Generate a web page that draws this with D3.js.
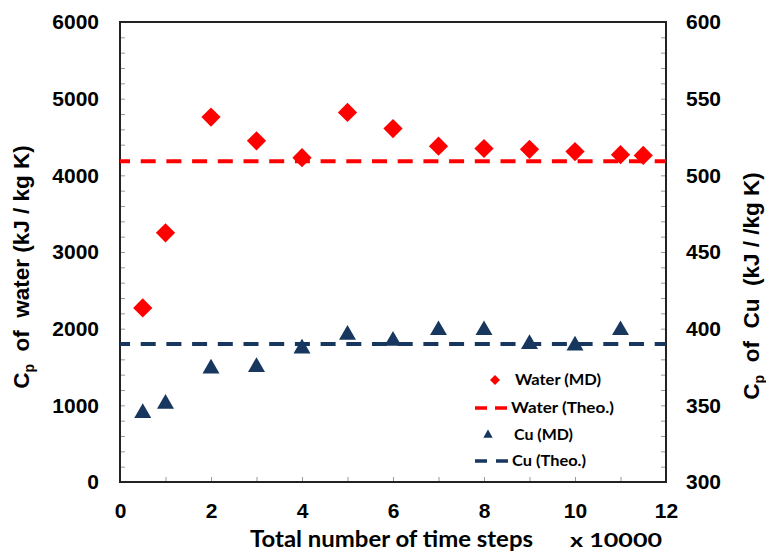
<!DOCTYPE html>
<html lang="en">
  <head>
    <meta charset="UTF-8" />
    <title>Cp of water and Cu vs time steps</title>
    <script src="https://cdnjs.cloudflare.com/ajax/libs/d3/7.8.5/d3.min.js"></script>
    <style>
      body {
        margin: 0;
        background: #fff;
      }
      svg {
        display: block;
      }
      .tick text {
        font-family: 'Liberation Sans', Arial, sans-serif;
        font-weight: bold;
        font-size: 21px;
        fill: #000;
      }
      .minor line {
        stroke: #999;
        stroke-width: 1px;
      }
      .title {
        font-family: 'Liberation Sans', Arial, sans-serif;
        font-weight: bold;
        font-size: 22.5px;
      }
      .calibri {
        font-family: Lato, 'Open Sans', sans-serif;
      }
    </style>
  </head>
  <body>
    <svg width="766" height="555"></svg>
    <script>
      // Data
      const waterSteps = [0.5, 1, 2, 3, 4, 5, 6, 7, 8, 9, 10, 11, 11.5];
      const waterMD = [2270, 3250, 4760, 4450, 4230, 4820, 4610, 4380, 4350, 4340, 4310, 4270, 4260];
      const cuSteps = [0.5, 1, 2, 3, 4, 5, 6, 7, 8, 9, 10, 11];
      const cuMD = [345, 351, 374, 375, 387, 396, 392, 399, 399, 390, 389, 399];
      const waterTheo = 4184;
      const cuTheo = 390;

      const xTicks = [0, 2, 4, 6, 8, 10, 12];
      const leftTicks = [0, 1000, 2000, 3000, 4000, 5000, 6000];
      const rightTicks = [300, 350, 400, 450, 500, 550, 600];

      const legendItems = ['Water (MD)', 'Water (Theo.)', 'Cu (MD)', 'Cu (Theo.)'];

      const red = '#ff0000';
      const navy = '#17375e';

      const svg = d3.select('svg');
      const m = { left: 120, right: 666, top: 22, bottom: 482 };

      const x = d3.scaleLinear().domain([0, 12]).range([m.left, m.right]);
      const yL = d3.scaleLinear().domain([0, 6000]).range([m.bottom, m.top]);
      const yR = d3.scaleLinear().domain([300, 600]).range([m.bottom, m.top]);
      const fmt = d3.format('d');

      // minor (inward) ticks
      svg.append('g').attr('class', 'minor')
        .attr('transform', `translate(${m.left},0)`)
        .call(d3.axisLeft(yL).tickValues(d3.range(200, 6000, 200)).tickSize(-5).tickFormat(''))
        .call(g => g.select('.domain').remove());
      svg.append('g').attr('class', 'minor')
        .attr('transform', `translate(${m.right},0)`)
        .call(d3.axisRight(yR).tickValues(d3.range(310, 600, 10)).tickSize(-5).tickFormat(''))
        .call(g => g.select('.domain').remove());
      svg.append('g').attr('class', 'minor')
        .attr('transform', `translate(0,${m.bottom})`)
        .call(d3.axisBottom(x).tickValues(d3.range(1, 12, 1)).tickSize(-5).tickFormat(''))
        .call(g => g.select('.domain').remove());

      // labels
      svg.append('g')
        .attr('transform', `translate(${m.left},0)`)
        .call(d3.axisLeft(yL).tickValues(leftTicks).tickSize(0).tickPadding(21).tickFormat(fmt))
        .call(g => g.select('.domain').remove());
      svg.append('g')
        .attr('transform', `translate(${m.right},0)`)
        .call(d3.axisRight(yR).tickValues(rightTicks).tickSize(0).tickPadding(20).tickFormat(fmt))
        .call(g => g.select('.domain').remove());
      svg.append('g')
        .attr('transform', `translate(0,${m.bottom})`)
        .call(d3.axisBottom(x).tickValues(xTicks).tickSize(0).tickPadding(21).tickFormat(fmt))
        .call(g => g.select('.domain').remove());

      // frame
      svg.append('rect')
        .attr('x', m.left).attr('y', m.top)
        .attr('width', m.right - m.left).attr('height', m.bottom - m.top)
        .attr('fill', 'none').attr('stroke', '#222').attr('stroke-width', 2);

      // theoretical lines
      svg.append('line')
        .attr('x1', x(0)).attr('x2', x(12))
        .attr('y1', yL(waterTheo)).attr('y2', yL(waterTheo))
        .attr('stroke', red).attr('stroke-width', 4)
        .attr('stroke-dasharray', '15,10.7').attr('stroke-dashoffset', 5);
      svg.append('line')
        .attr('x1', x(0)).attr('x2', x(12))
        .attr('y1', yR(cuTheo)).attr('y2', yR(cuTheo))
        .attr('stroke', navy).attr('stroke-width', 4)
        .attr('stroke-dasharray', '15,10.7').attr('stroke-dashoffset', 5);

      // points
      const diamond = d3.symbol().type(d3.symbolSquare).size(185);
      const tri = d3.symbol().type(d3.symbolTriangle).size(125);

      svg.append('g').selectAll('path')
        .data(waterSteps)
        .join('path')
        .attr('d', diamond)
        .attr('fill', red)
        .attr('transform', (d, i) => `translate(${x(d)},${yL(waterMD[i])}) rotate(45)`);

      svg.append('g').selectAll('path')
        .data(cuSteps)
        .join('path')
        .attr('d', tri)
        .attr('fill', navy)
        .attr('transform', (d, i) => `translate(${x(d)},${yR(cuMD[i])})`);

      // legend
      const lg = svg.append('g');
      const rowY = [380, 408, 435, 461];
      lg.append('path').attr('d', d3.symbol().type(d3.symbolSquare).size(50))
        .attr('fill', red).attr('transform', `translate(495,${rowY[0]}) rotate(45)`);
      lg.append('line').attr('x1', 475).attr('x2', 511).attr('y1', rowY[1]).attr('y2', rowY[1])
        .attr('stroke', red).attr('stroke-width', 3.5).attr('stroke-dasharray', '12,8');
      lg.append('path').attr('d', d3.symbol().type(d3.symbolTriangle).size(38))
        .attr('fill', navy).attr('transform', `translate(488,${rowY[2]})`);
      lg.append('line').attr('x1', 475).attr('x2', 508).attr('y1', rowY[3]).attr('y2', rowY[3])
        .attr('stroke', navy).attr('stroke-width', 3.5).attr('stroke-dasharray', '12,9');

      const legX = [515, 511, 514, 512];
      const legW = [86, 103, 59, 74];
      lg.selectAll('text')
        .data(legendItems)
        .join('text')
        .attr('class', 'calibri')
        .attr('x', (d, i) => legX[i])
        .attr('y', (d, i) => rowY[i] + 5)
        .attr('font-size', 16)
        .attr('font-weight', 'bold')
        .attr('textLength', (d, i) => legW[i])
        .attr('lengthAdjust', 'spacingAndGlyphs')
        .text(d => d);

      // axis titles
      svg.append('text')
        .attr('class', 'calibri')
        .attr('x', 250).attr('y', 547)
        .attr('font-size', 22).attr('font-weight', 'bold')
        .attr('textLength', 283).attr('lengthAdjust', 'spacingAndGlyphs')
        .text('Total number of time steps');
      svg.append('text')
        .attr('class', 'calibri')
        .attr('x', 570).attr('y', 547)
        .attr('font-size', 19).attr('font-weight', 'bold')
        .attr('textLength', 92).attr('lengthAdjust', 'spacingAndGlyphs')
        .text('x 10000');

      function cpTitle(cx, cy, rest) {
        const t = svg.append('text')
          .attr('class', 'title')
          .attr('text-anchor', 'middle')
          .attr('transform', `translate(${cx},${cy}) rotate(-90)`);
        t.append('tspan').text('C');
        t.append('tspan').attr('font-size', 14).attr('dy', 5).text('p');
        t.append('tspan').attr('dy', -5).text(rest);
        return t;
      }
      cpTitle(29, 267, '\u00a0 of\u00a0 water (kJ / kg K)');
      cpTitle(759, 286, '\u00a0 of\u00a0 Cu\u00a0 (kJ / /kg K)');
    </script>
  </body>
</html>
